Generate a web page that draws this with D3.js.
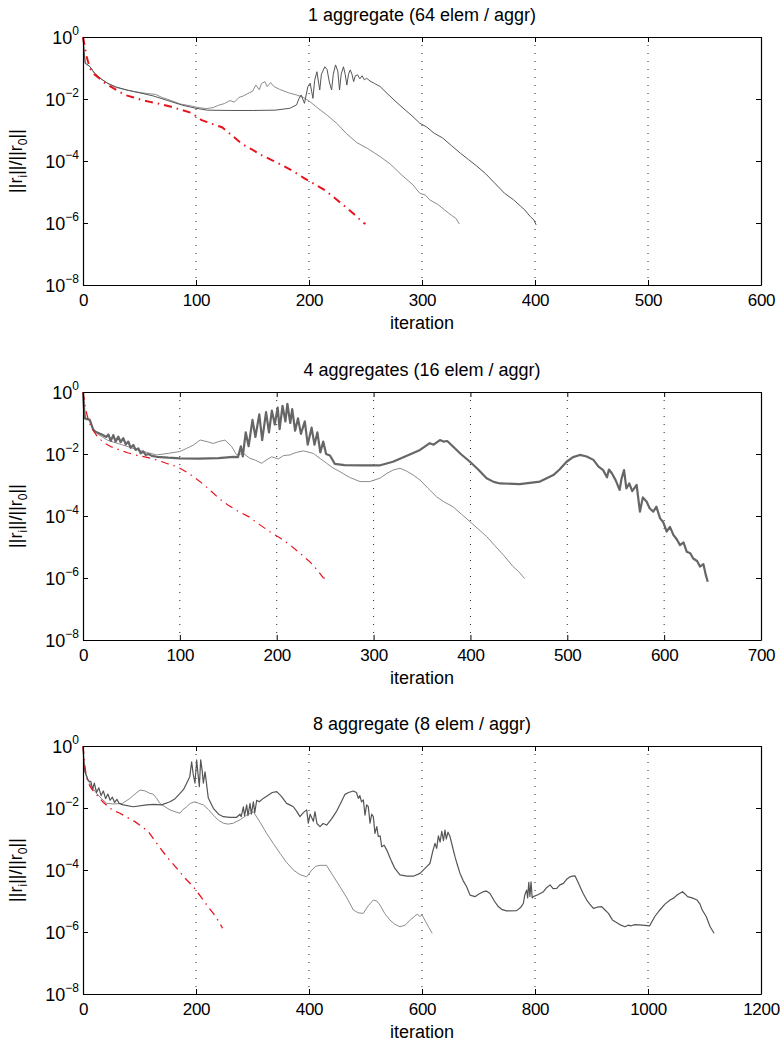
<!DOCTYPE html>
<html>
<head>
<meta charset="utf-8">
<script src="https://cdn.jsdelivr.net/npm/d3@7"></script>
<style>
body { margin: 0; background: #fff; }
svg text { font-family: "Liberation Sans", Arial, Helvetica, sans-serif; fill: #000; }
</style>
</head>
<body>
<div id="chart"></div>
<script>
// values are [iteration, log10(||r_i|| / ||r_0||)]

var p1Red = [[0,0],[3,-0.6],[6,-1.0],[10,-1.2],[20,-1.5],[30,-1.72],[37,-1.87],[45,-1.95],[52,-2.03],[60,-2.1],[68,-2.16],[78,-2.25],[87,-2.35],[96,-2.45],[105,-2.68],[114,-2.8],[123,-2.91],[131,-3.15],[140,-3.43],[149,-3.62],[158,-3.81],[167,-3.97],[176,-4.13],[186,-4.33],[196,-4.56],[205,-4.75],[214,-4.94],[223,-5.2],[232,-5.47],[240,-5.72],[248,-5.99],[250,-6.03]];

var p1Gray = [[0,0],[1,-0.5],[2,-0.85],[6,-0.95],[10,-1.16],[14,-1.3],[20,-1.45],[27,-1.6],[35,-1.68],[45,-1.76],[56,-1.82],[64,-1.85],[70,-1.95],[78,-2.05],[86,-2.16],[95,-2.22],[101,-2.27],[109,-2.31],[115,-2.28],[120,-2.2],[125,-2.15],[130,-2.05],[134,-2.1],[138,-1.95],[142,-1.9],[146,-1.82],[150,-1.75],[153,-1.55],[156,-1.7],[158,-1.5],[161,-1.44],[163,-1.6],[166,-1.47],[169,-1.6],[174,-1.69],[182,-1.8],[189,-1.87],[195,-1.95],[201,-2.09],[208,-2.3],[216,-2.52],[225,-2.8],[233,-3.11],[242,-3.4],[252,-3.6],[263,-3.86],[272,-4.1],[282,-4.45],[292,-4.77],[298,-5.04],[303,-5.1],[307,-5.26],[314,-5.4],[320,-5.58],[326,-5.75],[330,-5.85],[333,-6.03]];

var p1Dark = [[0,0],[1,-0.5],[2,-0.85],[6,-0.95],[10,-1.16],[16,-1.35],[22,-1.5],[30,-1.62],[40,-1.72],[50,-1.8],[62,-1.9],[75,-2.05],[88,-2.2],[100,-2.3],[110,-2.36],[130,-2.37],[150,-2.37],[170,-2.36],[183,-2.3],[189,-2.19],[191,-2.0],[193,-1.87],[196,-2.14],[199,-1.6],[201,-1.49],[203.5,-1.98],[205,-1.4],[207,-1.12],[209.5,-1.71],[211,-1.2],[214,-0.96],[216,-1.05],[218,-1.45],[220,-1.71],[221.5,-1.2],[223.5,-0.9],[225.5,-1.1],[227,-1.71],[228.5,-1.2],[230.5,-0.96],[232,-1.2],[233.5,-1.55],[235,-1.2],[236.5,-1.06],[238,-1.2],[239.5,-1.44],[241,-1.25],[243,-1.22],[245,-1.35],[247,-1.25],[249,-1.38],[251,-1.33],[254,-1.42],[258,-1.5],[263,-1.6],[270,-1.85],[277,-2.09],[285,-2.35],[292,-2.57],[298,-2.78],[304,-2.9],[311,-3.11],[318,-3.25],[326,-3.5],[334,-3.75],[341,-3.95],[348,-4.15],[356,-4.4],[364,-4.7],[373,-5.04],[381,-5.25],[387,-5.45],[391,-5.58],[396,-5.8],[399,-5.9],[401,-6.06]];

var p2Red = [[0,0],[3,-0.6],[6,-0.95],[9,-1.17],[15,-1.45],[22.7,-1.66],[30,-1.78],[38,-1.87],[46,-1.96],[54,-2.03],[65,-2.1],[76,-2.19],[86,-2.3],[97,-2.41],[105,-2.55],[114,-2.73],[124,-2.97],[133,-3.22],[141,-3.45],[150,-3.65],[160,-3.85],[171,-4.02],[182,-4.27],[193,-4.51],[204,-4.72],[214,-4.94],[224,-5.2],[234,-5.47],[242,-5.75],[248,-5.99],[250,-6.02]];

var p2Gray = [[0,0],[1,-0.5],[2,-0.85],[7,-0.9],[9,-1.12],[15,-1.35],[25,-1.55],[40,-1.7],[55,-1.85],[66,-1.95],[76,-2.03],[88,-1.98],[100,-1.92],[107,-1.82],[114,-1.71],[121,-1.55],[128,-1.6],[134.5,-1.66],[140,-1.6],[146.6,-1.55],[153.5,-1.76],[158.6,-2.03],[165.5,-1.98],[172.4,-2.14],[178,-2.2],[184.5,-2.3],[189,-2.2],[194.8,-2.09],[201.7,-2.16],[207,-2.05],[213.7,-2.03],[220,-1.95],[227.5,-1.9],[237.8,-1.98],[245,-2.15],[251.6,-2.3],[258,-2.45],[265.3,-2.57],[275,-2.75],[286,-2.89],[296,-2.89],[306.6,-2.78],[314,-2.62],[320,-2.52],[327.3,-2.46],[334,-2.55],[341,-2.68],[348,-2.84],[356,-3.1],[365,-3.38],[373,-3.55],[382,-3.7],[391,-3.95],[399.5,-4.18],[408,-4.42],[416.7,-4.66],[425,-4.95],[433.9,-5.25],[444,-5.63],[450,-5.8],[456,-6.02]];

var p2Dark = [[0,0],[1,-0.5],[2,-0.85],[7,-0.9],[10.7,-1.23],[14,-1.3],[20,-1.38],[24,-1.45],[26.2,-1.37],[28.6,-1.58],[31.3,-1.39],[33.7,-1.6],[36.5,-1.44],[38.9,-1.62],[41.6,-1.49],[44.1,-1.69],[46.8,-1.6],[49.2,-1.8],[52,-1.71],[54.4,-1.87],[57.1,-1.82],[59.5,-1.98],[62.3,-1.92],[64.7,-2.03],[67.5,-2.0],[71,-2.06],[76,-2.09],[88,-2.12],[100,-2.14],[120,-2.15],[140,-2.13],[155,-2.09],[160,-2.1],[163,-1.75],[165,-2.08],[168,-1.3],[171,-1.75],[175,-0.9],[178,-1.45],[182,-0.72],[185,-1.55],[189,-0.65],[192,-1.3],[195,-0.6],[198,-1.05],[201,-0.5],[203,-1.2],[206,-0.45],[209,-0.95],[211,-0.38],[214,-1.0],[216,-0.55],[219,-1.25],[222,-0.85],[225,-1.35],[229,-0.95],[232,-1.7],[236,-1.15],[239,-1.7],[242,-1.3],[245,-1.95],[248,-1.6],[251,-2.0],[255,-2.05],[260,-2.32],[270,-2.36],[290,-2.37],[306,-2.37],[320,-2.25],[335,-2.05],[348,-1.87],[358,-1.65],[362,-1.7],[368.5,-1.55],[372,-1.6],[376,-1.58],[382,-1.76],[390,-2.0],[399.5,-2.25],[408,-2.5],[416.7,-2.78],[424,-2.9],[430.5,-2.95],[451,-2.97],[471.8,-2.89],[485.6,-2.68],[492,-2.5],[499.3,-2.25],[506,-2.1],[513,-2.03],[520,-2.08],[527,-2.19],[532,-2.4],[537,-2.52],[541,-2.75],[543,-2.5],[546,-2.62],[550,-2.85],[554,-3.16],[556,-2.8],[558.6,-2.52],[561,-3.11],[564,-2.95],[567,-3.2],[571.6,-3.0],[575,-3.86],[578,-3.4],[582,-3.54],[585,-3.75],[588.8,-3.86],[592,-3.7],[595.7,-4.07],[599,-4.2],[602.6,-4.5],[606,-4.35],[609.5,-4.61],[613,-4.75],[616.4,-4.94],[620,-4.85],[623.3,-5.15],[627,-5.2],[630,-5.37],[634,-5.45],[637,-5.63],[640.5,-5.55],[643,-5.9],[645,-6.12]];

var p3Red = [[0,0],[3,-0.6],[6,-1.0],[9.4,-1.2],[16,-1.4],[24.2,-1.57],[35,-1.8],[47.8,-2.01],[56,-2.1],[65.5,-2.17],[78,-2.3],[92,-2.44],[104,-2.6],[115.6,-2.76],[127,-3.05],[139,-3.35],[152,-3.65],[165.7,-3.94],[180,-4.25],[195.2,-4.54],[204,-4.75],[213,-4.97],[222,-5.2],[230.7,-5.4],[240,-5.65],[247,-5.88]];

var p3Gray = [[0,0],[1.5,-0.5],[3.5,-0.83],[9.4,-1.12],[15,-1.3],[25,-1.55],[33,-1.7],[41.9,-1.85],[55,-1.87],[70,-1.85],[83,-1.69],[92,-1.55],[101,-1.42],[110,-1.45],[118.6,-1.53],[124,-1.55],[130.4,-1.69],[136,-1.85],[145,-1.96],[154,-2.06],[163,-2.12],[171.7,-2.17],[177,-2.05],[183.5,-1.96],[190,-1.85],[198,-1.8],[205,-1.85],[213,-1.9],[222,-2.05],[230.7,-2.23],[240,-2.4],[248.4,-2.49],[257,-2.52],[266,-2.49],[278,-2.38],[289.7,-2.23],[301.5,-2.12],[313,-2.45],[325,-2.82],[337,-3.15],[348.7,-3.46],[360,-3.75],[372.3,-4.0],[384,-4.15],[395.9,-4.22],[405,-4.0],[412,-3.88],[419.5,-3.85],[431,-3.85],[443,-4.2],[455,-4.54],[467,-4.9],[478.5,-5.29],[487,-5.38],[496,-5.4],[505,-5.15],[513.8,-4.97],[520,-5.0],[525.6,-5.13],[534,-5.4],[543,-5.61],[552,-5.75],[561,-5.83],[570,-5.78],[580,-5.6],[587.6,-5.48],[592,-5.42],[596,-5.5],[600,-5.45],[606,-5.65],[612,-5.85],[618,-6.04]];

var p3Dark = [[0,0],[1.5,-0.5],[3.5,-0.83],[9.4,-1.12],[14,-1.15],[17,-1.4],[20,-1.2],[24,-1.5],[28,-1.35],[32,-1.6],[36,-1.45],[40,-1.7],[44,-1.55],[48,-1.75],[52,-1.65],[56,-1.82],[60,-1.72],[64,-1.85],[71,-1.9],[89,-1.96],[112.7,-1.9],[125,-1.88],[139,-1.9],[154,-1.8],[163,-1.7],[171.7,-1.53],[178,-1.4],[183.5,-1.2],[189,-0.99],[192.3,-0.51],[195,-0.9],[198.2,-1.2],[201.2,-0.45],[203,-0.8],[205.9,-1.31],[208.3,-0.45],[211,-0.8],[213,-1.2],[216,-0.83],[221.8,-1.68],[230.7,-2.01],[240,-2.2],[248.4,-2.28],[260,-2.3],[272,-2.3],[277.9,-2.2],[280,-2.28],[283.8,-1.96],[286,-2.25],[289.7,-1.9],[292,-2.25],[295.6,-1.85],[298,-2.2],[301.5,-1.8],[304,-2.15],[307.4,-1.75],[312,-1.8],[319,-1.69],[327,-1.6],[335,-1.5],[342.8,-1.47],[350,-1.6],[360.5,-1.85],[366,-1.9],[372.3,-1.96],[378,-2.1],[384.1,-2.28],[390,-2.15],[395.9,-2.06],[398.8,-2.49],[402,-2.2],[407.7,-2.43],[410.6,-2.12],[414,-2.5],[419.5,-2.6],[425,-2.5],[431.3,-2.55],[440,-2.35],[449,-2.1],[456,-1.85],[463.7,-1.56],[470,-1.5],[478.5,-1.45],[484,-1.5],[487.3,-1.69],[490,-1.6],[493,-1.8],[496.2,-1.74],[499.1,-2.23],[502,-1.9],[505,-1.96],[508,-2.49],[511,-2.2],[513.8,-2.28],[516.8,-2.82],[520,-2.6],[522.7,-2.92],[526,-2.9],[528.6,-3.25],[533,-3.2],[537.5,-3.35],[542,-3.55],[546.3,-3.73],[552,-3.95],[561,-4.16],[573,-4.2],[584.7,-4.2],[596.5,-4.11],[608.3,-3.89],[614,-3.79],[619,-3.4],[623,-3.14],[626,-3.3],[629,-2.9],[632,-3.1],[635,-2.75],[638,-3.05],[640.7,-2.71],[643,-3.0],[646,-2.78],[649.6,-2.92],[654,-3.25],[658.4,-3.57],[662,-3.8],[667.3,-4.11],[673,-4.35],[679,-4.54],[685,-4.81],[693.8,-4.86],[700,-4.78],[708.5,-4.7],[714,-4.68],[720.4,-4.76],[728,-5.0],[735,-5.18],[742,-5.28],[749.8,-5.32],[767.5,-5.31],[775,-5.2],[779.3,-5.08],[782,-4.8],[785.2,-4.65],[787,-4.9],[789,-4.4],[791,-4.85],[793,-4.38],[795,-4.9],[797,-4.86],[805,-4.8],[815,-4.7],[820,-4.58],[826.7,-4.48],[832,-4.6],[838.5,-4.59],[844,-4.48],[850.3,-4.43],[856,-4.3],[862,-4.22],[866,-4.2],[870.9,-4.19],[875,-4.35],[879.8,-4.54],[885,-4.75],[891.6,-4.97],[897,-5.1],[903.4,-5.24],[910,-5.2],[918,-5.18],[924,-5.29],[930,-5.4],[937,-5.61],[945,-5.7],[952,-5.78],[959,-5.83],[965,-5.78],[970,-5.8],[977,-5.76],[990,-5.78],[1003,-5.8],[1012,-5.5],[1021,-5.29],[1030,-5.1],[1039,-4.97],[1046,-4.9],[1052,-4.8],[1061,-4.7],[1066,-4.78],[1070,-4.86],[1078,-4.9],[1087,-4.97],[1092,-5.1],[1096,-5.29],[1103,-5.5],[1110,-5.83],[1114,-5.95],[1117,-6.04]];

var titles = ["1 aggregate (64 elem / aggr)", "4 aggregates (16 elem / aggr)", "8 aggregate (8 elem / aggr)"];
var xMaxes = [600, 700, 1200];
var xTickSteps = [100, 100, 200];
var yTickExps = [0, -2, -4, -6, -8];
var xLabel = "iteration";

var panels = [
    {red: p1Red, gray: p1Gray, dark: p1Dark},
    {red: p2Red, gray: p2Gray, dark: p2Dark},
    {red: p3Red, gray: p3Gray, dark: p3Dark}
];

var W = 780, H = 1043;
var left = 83, right = 761, plotH = 248;
var tops = [37, 392, 746];
// line looks differ a bit per panel
var darkWidth = [1, 2.2, 1.2];
var darkColor = ["#555", "#666", "#555"];
var redWidth = [2, 1.2, 1.3];

var svg = d3.select("#chart").append("svg")
    .attr("width", W).attr("height", H)
    .style("background", "#fff");

function drawPanel(i){
    var top = tops[i], bottom = top + plotH;
    var x = d3.scaleLinear().domain([0, xMaxes[i]]).range([left, right]);
    var y = d3.scaleLog().domain([1e-8, 1]).range([bottom, top]);
    var xt = d3.range(0, xMaxes[i] + 1, xTickSteps[i]);
    var yt = yTickExps.map(e => Math.pow(10, e));
    var g = svg.append("g");

    //dotted grid at inner x ticks
    g.selectAll(".grid")
        .data(xt.slice(1, -1))
        .enter().append("line")
            .attr("x1", d => x(d)).attr("x2", d => x(d))
            .attr("y1", top).attr("y2", bottom)
            .attr("stroke", "#222").attr("stroke-width", 1)
            .attr("stroke-dasharray", "1,7");

    var line = d3.line()
        .x(d => x(d[0]))
        .y(d => y(Math.pow(10, d[1])));

    g.append("path").datum(panels[i].gray)
        .attr("d", line).attr("fill", "none")
        .attr("stroke", "#8c8c8c").attr("stroke-width", 1);

    g.append("path").datum(panels[i].dark)
        .attr("d", line).attr("fill", "none")
        .attr("stroke", darkColor[i]).attr("stroke-width", darkWidth[i])
        .attr("stroke-linejoin", "round");

    g.append("path").datum(panels[i].red)
        .attr("d", line).attr("fill", "none")
        .attr("stroke", "#e8141c").attr("stroke-width", redWidth[i])
        .attr("stroke-dasharray", "8,5,1.5,5");

    //axes, ticks pointing inward like matlab
    g.append("g").attr("transform", `translate(0,${bottom})`)
        .call(d3.axisBottom(x).tickValues(xt).tickFormat(d3.format("d"))
            .tickSizeInner(-5).tickSizeOuter(0).tickPadding(9))
        .call(a => a.selectAll("text").attr("font-size", 17).attr("font-family", null)
            .attr("letter-spacing", -0.3));
    g.append("g").attr("transform", `translate(0,${top})`)
        .call(d3.axisTop(x).tickValues(xt).tickSizeInner(-5).tickSizeOuter(0).tickFormat(""));
    g.append("g").attr("transform", `translate(${left},0)`)
        .call(d3.axisLeft(y).tickValues(yt).tickSizeInner(-5).tickSizeOuter(0).tickFormat(""));
    g.append("g").attr("transform", `translate(${right},0)`)
        .call(d3.axisRight(y).tickValues(yt).tickSizeInner(-5).tickSizeOuter(0).tickFormat(""));
    g.selectAll(".domain").attr("stroke", "#000").attr("stroke-width", 1.2);
    g.selectAll(".tick line").attr("stroke", "#000");

    //y tick labels as 10^n
    var yl = g.selectAll(".ylab").data(yTickExps).enter().append("text")
        .attr("x", left - 4)
        .attr("y", d => y(Math.pow(10, d)) + 7)
        .attr("text-anchor", "end");
    yl.append("tspan").attr("font-size", 18).text("10");
    yl.append("tspan").attr("font-size", 12).attr("dy", -9).text(d => d === 0 ? "0" : "\u2212" + (-d));

    //title
    g.append("text")
        .attr("x", (left + right) / 2).attr("y", top - 16)
        .attr("text-anchor", "middle").attr("font-size", 18)
        .text(titles[i]);

    //x label
    g.append("text")
        .attr("x", (left + right) / 2).attr("y", bottom + 44)
        .attr("text-anchor", "middle").attr("font-size", 18)
        .text(xLabel);

    //y label ||r_i||/||r_0||
    var ylab = g.append("text")
        .attr("transform", `translate(22,${(top + bottom) / 2}) rotate(-90)`)
        .attr("text-anchor", "middle").attr("font-size", 18);
    ylab.append("tspan").text("||r");
    ylab.append("tspan").attr("font-size", 12).attr("dy", 5).text("i");
    ylab.append("tspan").attr("dy", -5).text("||/||r");
    ylab.append("tspan").attr("font-size", 12).attr("dy", 5).text("0");
    ylab.append("tspan").attr("dy", -5).text("||");
}

for (var i = 0; i < 3; i++) drawPanel(i);
</script>
</body>
</html>
